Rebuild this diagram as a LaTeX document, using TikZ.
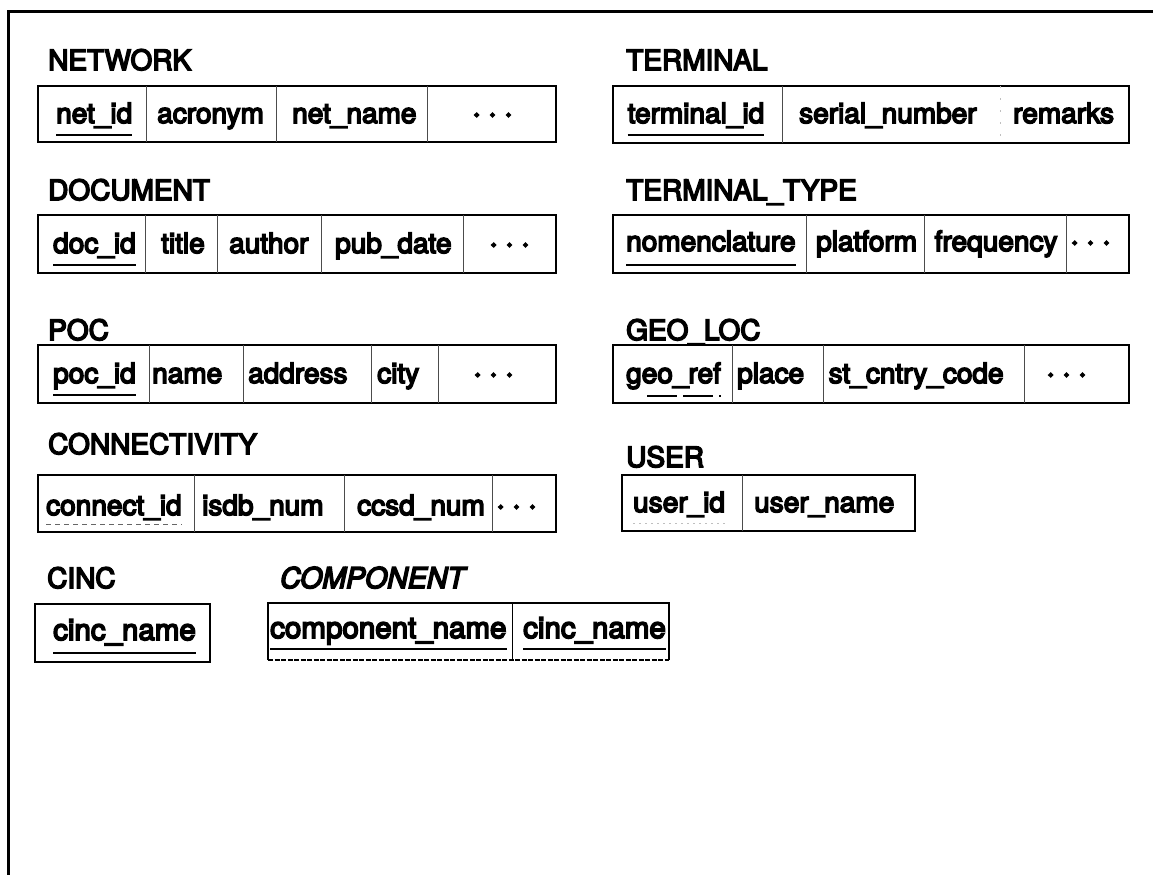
\documentclass[tikz,border=0pt]{standalone}
\usepackage{fontspec}
\setmainfont{TeX Gyre Heros}
\newfontfamily\hv{TeX Gyre Heros}[FakeBold=5.5]
\newfontfamily\hvit{TeX Gyre Heros Italic}[FakeBold=5.5]
\newcommand\dotsrow{·\hspace{7pt}·\hspace{7pt}·}
\newcommand\keyline[3][]{\draw[keyl,#1] ([yshift=-#3]#2.base west) -- ([yshift=-#3]#2.base east);}
\begin{document}
\begin{tikzpicture}[x=1pt,y=-1pt,
  ttl/.style={anchor=base west, inner sep=0pt, font=\hv\fontsize{28}{30}\selectfont},
  ttlit/.style={anchor=base west, inner sep=0pt, font=\hvit\fontsize{28.5}{30}\selectfont},
  cell/.style={anchor=base west, inner sep=0pt, font=\hv\fontsize{28}{30}\selectfont},
  cellb/.style={anchor=base west, inner sep=0pt, font=\hv\fontsize{29.5}{30}\selectfont},
  dotcell/.style={anchor=base west, inner sep=0pt, font=\hv\fontsize{32}{30}\selectfont},
  tbox/.style={draw=black, line width=1.4pt},
  divd/.style={draw=black!70, line width=1pt},
  keyl/.style={draw=black, line width=1.3pt},
  frame/.style={draw=black, line width=3pt}]
\useasboundingbox (0,0) rectangle (1153,875);
\fill[white] (0,0) rectangle (1153,875);
% frame
\draw[frame] (1153,12) -- (8,12) -- (8,875);

% ---------- NETWORK
\node[ttl] (tNet) at (48,70) {NETWORK};
\draw[tbox] (38,86) rectangle (556,142);
\foreach \x in {146,276,427} \draw[divd] (\x,86) -- (\x,142);
\node[cell] (net1) at (56,123) {net\_id};
\node[cell] (net2) at (157,123) {acronym};
\node[cell] (net3) at (292,123) {net\_name};
\node[dotcell] (net4) at (472,123) {\dotsrow};
\keyline{net1}{12pt}

% ---------- DOCUMENT
\node[ttl] (tDoc) at (48,200) {DOCUMENT};
\draw[tbox] (38,215) rectangle (556,273);
\foreach \x in {145,217,321,463} \draw[divd] (\x,215) -- (\x,273);
\node[cell] (doc1) at (53,253) {doc\_id};
\node[cell] (doc2) at (161,253) {title};
\node[cell] (doc3) at (229,253) {author};
\node[cell] (doc4) at (335,253) {pub\_date};
\node[dotcell] (doc5) at (489,253) {\dotsrow};
\keyline{doc1}{12pt}

% ---------- POC
\node[ttl] (tPoc) at (48,340) {POC};
\draw[tbox] (38,345) rectangle (556,403);
\foreach \x in {149.5,243,371,438} \draw[divd] (\x,345) -- (\x,403);
\node[cell] (poc1) at (53,383) {poc\_id};
\node[cell] (poc2) at (152,383) {name};
\node[cell] (poc3) at (248,383) {address};
\node[cell] (poc4) at (377,383) {city};
\node[dotcell] (poc5) at (473,383) {\dotsrow};
\keyline{poc1}{12pt}

% ---------- CONNECTIVITY
\node[ttl] (tCon) at (48,454) {CONNECTIVITY};
\draw[tbox] (38,475) rectangle (556,532);
\foreach \x in {194,344,492} \draw[divd] (\x,475) -- (\x,532);
\node[cell] (con1) at (46,515) {connect\_id};
\node[cell] (con2) at (202,515) {isdb\_num};
\node[cell] (con3) at (357,515) {ccsd\_num};
\node[dotcell] (con4) at (496,515) {\dotsrow};
\keyline[draw=black!60, dash pattern=on 5pt off 4pt, line width=1pt]{con1}{9pt}

% ---------- TERMINAL
\node[ttl] (tTer) at (626,70) {TERMINAL};
\draw[tbox] (613,86) rectangle (1129,143);
\draw[divd] (782,86) -- (782,143);
\draw[divd, draw=black!25, dash pattern=on 2pt off 10pt] (1000,86) -- (1000,143);
\node[cell] (ter1) at (627.5,123) {terminal\_id};
\node[cell] (ter2) at (799,123) {serial\_number};
\node[cell] (ter3) at (1013,123) {remarks};
\keyline{ter1}{12pt}

% ---------- TERMINAL_TYPE
\node[ttl] (tTyp) at (626,200) {TERMINAL\_TYPE};
\draw[tbox] (613,215) rectangle (1129,273);
\foreach \x in {806.6,924.7,1066.8} \draw[divd] (\x,215) -- (\x,273);
\node[cell] (typ1) at (626,251) {nomenclature};
\node[cell] (typ2) at (816,251) {platform};
\node[cell] (typ3) at (934.5,251) {frequency};
\node[dotcell] (typ4) at (1070,251) {\dotsrow};
\keyline{typ1}{14pt}

% ---------- GEO_LOC
\node[ttl] (tGeo) at (626,340) {GEO\_LOC};
\draw[tbox] (613,345) rectangle (1129,403);
\foreach \x in {732,823,1024} \draw[divd] (\x,345) -- (\x,403);
\node[cell] (geo1) at (626,383) {geo\_ref};
\node[cell] (geo2) at (737,383) {place};
\node[cell] (geo3) at (828.5,383) {st\_cntry\_code};
\node[dotcell] (geo4) at (1046,383) {\dotsrow};
\draw[keyl, dash pattern=on 30pt off 6pt] ([xshift=21pt,yshift=-13pt]geo1.base west) -- ([yshift=-13pt]geo1.base east);

% ---------- USER
\node[ttl] (tUsr) at (626,467) {USER};
\draw[tbox] (622,475) rectangle (915,531);
\draw[divd] (742,475) -- (742,531);
\node[cell] (usr1) at (633,512) {user\_id};
\node[cell] (usr2) at (754,512) {user\_name};
\keyline[draw=black!25, line width=0.8pt, dash pattern=on 2pt off 4pt]{usr1}{11pt}

% ---------- CINC
\node[ttl] (tCinc) at (47,588) {CINC};
\draw[tbox] (35,604) rectangle (210,662);
\node[cellb] (cin1) at (53,640) {cinc\_name};
\keyline{cin1}{13pt}

% ---------- COMPONENT
\node[ttlit] (tComp) at (280,588) {COMPONENT};
\draw[tbox] (268,660) -- (268,603) -- (669,603) -- (669,660);
\draw[tbox, dash pattern=on 5pt off 1.5pt] (268,660) -- (669,660);
\draw[divd, draw=black] (512,603) -- (512,660);
\node[cellb] (cmp1) at (270,638) {component\_name};
\node[cellb] (cmp2) at (523,638) {cinc\_name};
\keyline{cmp1}{11pt}
\keyline{cmp2}{11pt}
\end{tikzpicture}
\end{document}
